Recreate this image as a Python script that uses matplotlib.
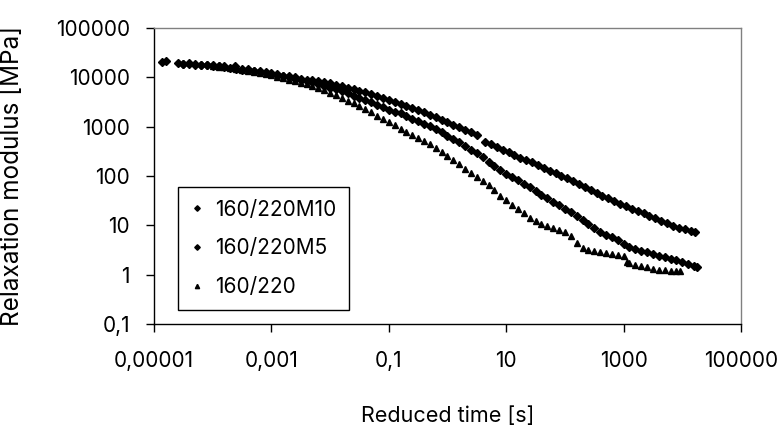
import matplotlib
matplotlib.use("Agg")
import matplotlib.pyplot as plt
import numpy as np

plt.rcParams['font.family'] = ['Inter', 'Liberation Sans', 'DejaVu Sans']

# ---- data (log10 of reduced time [s], log10 of modulus [MPa]) ----
log_time_m10 = [-4.86, -4.80, -4.59, -4.50, -4.40, -4.30, -4.20, -4.10, -4.00, -3.90, -3.80,
                -3.62,
                -3.50, -3.40, -3.30, -3.20, -3.10, -3.00, -2.90, -2.80, -2.70, -2.60,
                -2.50, -2.40, -2.30, -2.20, -2.10, -2.00, -1.90, -1.80, -1.70, -1.60,
                -1.50, -1.40, -1.30, -1.20, -1.10, -1.00, -0.90, -0.80, -0.70, -0.60,
                -0.50, -0.40, -0.30, -0.20, -0.10, 0.00, 0.10, 0.20, 0.30, 0.40,
                0.50,
                0.64, 0.74, 0.84, 0.94, 1.04, 1.14, 1.24, 1.34, 1.44, 1.54,
                1.64, 1.74, 1.84, 1.94, 2.04, 2.14, 2.24, 2.34, 2.44, 2.54,
                2.64, 2.74, 2.84, 2.94, 3.04, 3.14, 3.24, 3.34, 3.44, 3.54,
                3.64, 3.74, 3.84, 3.94, 4.04, 4.14,
                4.22]
log_mod_m10 = [4.31, 4.34, 4.30, 4.28, 4.29, 4.27, 4.26, 4.25, 4.24, 4.23, 4.22,
               4.22,
               4.17, 4.16, 4.13, 4.12, 4.10, 4.08, 4.06, 4.03, 4.02, 4.00,
               3.97, 3.95, 3.94, 3.92, 3.90, 3.88, 3.85, 3.82, 3.79, 3.76,
               3.73, 3.70, 3.66, 3.63, 3.59, 3.55, 3.50, 3.46, 3.42, 3.38,
               3.34, 3.29, 3.24, 3.19, 3.14, 3.09, 3.04, 2.99, 2.94, 2.89,
               2.84,
               2.69, 2.64, 2.58, 2.53, 2.48, 2.42, 2.37, 2.33, 2.28, 2.22,
               2.17, 2.11, 2.06, 2.00, 1.95, 1.89, 1.83, 1.77, 1.71, 1.66,
               1.60, 1.55, 1.49, 1.44, 1.39, 1.34, 1.29, 1.24, 1.19, 1.14,
               1.09, 1.04, 0.99, 0.95, 0.92, 0.89,
               0.87]

log_time_m5 = [-4.50, -4.40, -4.30, -4.20, -4.10, -4.00, -3.90, -3.80, -3.70, -3.60,
               -3.50, -3.40, -3.30, -3.20, -3.10, -3.00, -2.90, -2.80, -2.70, -2.60,
               -2.50, -2.40, -2.30, -2.20, -2.10,
               -2.00, -1.90, -1.80, -1.70, -1.60, -1.50, -1.40, -1.30, -1.20, -1.10,
               -1.00, -0.90, -0.80, -0.70, -0.60, -0.50, -0.40, -0.30, -0.20, -0.10,
               0.00, 0.10, 0.20, 0.30, 0.40, 0.50, 0.60, 0.70, 0.80, 0.90,
               1.00, 1.10, 1.20, 1.30, 1.40, 1.50, 1.60, 1.70, 1.80, 1.90,
               2.00, 2.10, 2.20, 2.30, 2.40, 2.50, 2.60, 2.70, 2.80, 2.90,
               3.00, 3.10, 3.20, 3.30, 3.40, 3.50, 3.60, 3.70, 3.80, 3.90,
               4.00, 4.10, 4.20, 4.25]
log_mod_m5 = [4.27, 4.28, 4.26, 4.25, 4.24, 4.23, 4.22, 4.21, 4.19, 4.17,
              4.15, 4.14, 4.12, 4.10, 4.08, 4.06, 4.04, 4.02, 4.00, 3.97,
              3.95, 3.92, 3.90, 3.87, 3.83,
              3.79, 3.76, 3.72, 3.68, 3.63, 3.59, 3.54, 3.49, 3.44, 3.39,
              3.34, 3.30, 3.27, 3.21, 3.16, 3.11, 3.06, 3.01, 2.95, 2.89,
              2.82, 2.75, 2.68, 2.61, 2.53, 2.46, 2.38, 2.29, 2.21, 2.12,
              2.05, 1.98, 1.91, 1.84, 1.77, 1.69, 1.62, 1.55, 1.48, 1.41,
              1.34, 1.27, 1.19, 1.11, 1.03, 0.95, 0.87, 0.81, 0.76, 0.70,
              0.63, 0.57, 0.52, 0.48, 0.45, 0.42, 0.38, 0.35, 0.32, 0.29,
              0.25, 0.21, 0.17, 0.16]

log_time_base = [-4.00, -3.90, -3.80, -3.70, -3.60, -3.50, -3.40, -3.30, -3.20, -3.10,
                 -3.00, -2.90, -2.80, -2.70, -2.60, -2.50, -2.40, -2.30, -2.20, -2.10,
                 -2.00, -1.90, -1.80, -1.70, -1.60, -1.50, -1.40, -1.30, -1.20, -1.10,
                 -1.00, -0.90, -0.80, -0.70, -0.60, -0.50, -0.40, -0.30, -0.20, -0.10,
                 0.00, 0.10, 0.20, 0.30, 0.40, 0.50, 0.60, 0.70, 0.80, 0.90,
                 1.00, 1.10, 1.20, 1.30, 1.40, 1.50, 1.60, 1.70, 1.80, 1.90,
                 2.00, 2.10, 2.20, 2.30, 2.40, 2.50, 2.60, 2.70, 2.80, 2.90,
                 3.00,
                 3.06, 3.10, 3.20, 3.30, 3.40, 3.50, 3.60, 3.70, 3.80, 3.90, 3.96]
log_mod_base = [4.22, 4.21, 4.20, 4.18, 4.17, 4.15, 4.13, 4.11, 4.09, 4.07,
                4.04, 4.01, 3.98, 3.95, 3.92, 3.89, 3.86, 3.82, 3.78, 3.74,
                3.69, 3.64, 3.59, 3.53, 3.47, 3.41, 3.35, 3.29, 3.22, 3.16,
                3.10, 3.03, 2.96, 2.90, 2.84, 2.77, 2.71, 2.64, 2.56, 2.48,
                2.40, 2.32, 2.24, 2.15, 2.07, 1.98, 1.90, 1.81, 1.72, 1.60,
                1.51, 1.42, 1.33, 1.24, 1.15, 1.08, 1.02, 0.98, 0.94, 0.90,
                0.87, 0.78, 0.64, 0.54, 0.50, 0.48, 0.46, 0.43, 0.41, 0.39,
                0.37,
                0.26, 0.24, 0.20, 0.17, 0.15, 0.12, 0.10, 0.09, 0.08, 0.08, 0.075]

series_labels = ['160/220M10', '160/220M5', '160/220']
x_tick_values = [1e-5, 1e-3, 1e-1, 1e1, 1e3, 1e5]
x_tick_labels = ['0,00001', '0,001', '0,1', '10', '1000', '100000']
y_tick_values = [1e-1, 1e0, 1e1, 1e2, 1e3, 1e4, 1e5]
y_tick_labels = ['0,1', '1', '10', '100', '1000', '10000', '100000']
x_label = 'Reduced time [s]'
y_label = 'Relaxation modulus [MPa]'

W, H = 784, 428
fig = plt.figure(figsize=(W / 100, H / 100), dpi=100)
ax = fig.add_axes([154 / W, 1 - 324 / H, (741 - 154) / W, (324 - 28) / H])

ax.set_xscale('log')
ax.set_yscale('log')

def pw(a):
    return np.power(10.0, np.asarray(a))

ax.plot(pw(log_time_m10), pw(log_mod_m10), linestyle='none', marker='D',
        markersize=4.0, color='black', label=series_labels[0])
ax.plot(pw(log_time_m5), pw(log_mod_m5), linestyle='none', marker='D',
        markersize=4.0, color='black', label=series_labels[1])
ax.plot(pw(log_time_base), pw(log_mod_base), linestyle='none', marker='^',
        markersize=4.4, color='black', label=series_labels[2])

ax.set_xlim(1e-5, 1e5)
ax.set_ylim(1e-1, 1e5)
ax.set_xticks(x_tick_values)
ax.set_xticklabels(x_tick_labels)
ax.set_yticks(y_tick_values)
ax.set_yticklabels(y_tick_labels)
ax.minorticks_off()

ax.tick_params(axis='both', which='major', direction='out', length=5.8, width=1,
               color='black', labelsize=15, labelcolor='black')
ax.tick_params(axis='x', pad=13.5)
ax.tick_params(axis='y', pad=11.5)

for side in ['left', 'bottom']:
    ax.spines[side].set_color('black')
    ax.spines[side].set_linewidth(1.0)
for side in ['top', 'right']:
    ax.spines[side].set_color('#808080')
    ax.spines[side].set_linewidth(1.0)

fig.text(447.5 / W, 1 - 416 / H, x_label, ha='center', va='center', fontsize=15.5)
fig.text(13 / W, 1 - 176 / H, y_label, ha='center', va='center', rotation=90,
         fontsize=17.5)

leg = ax.legend(loc='upper left', bbox_to_anchor=(178 / W, 1 - 187 / H),
                bbox_transform=fig.transFigure, fontsize=15, frameon=True,
                fancybox=False, shadow=False, edgecolor='black', framealpha=1,
                handlelength=0.6, handletextpad=0.6, labelspacing=0.9,
                borderpad=0.6, borderaxespad=0, markerscale=0.7)
leg.get_frame().set_linewidth(1.0)

fig.savefig('out.png', dpi=100)
